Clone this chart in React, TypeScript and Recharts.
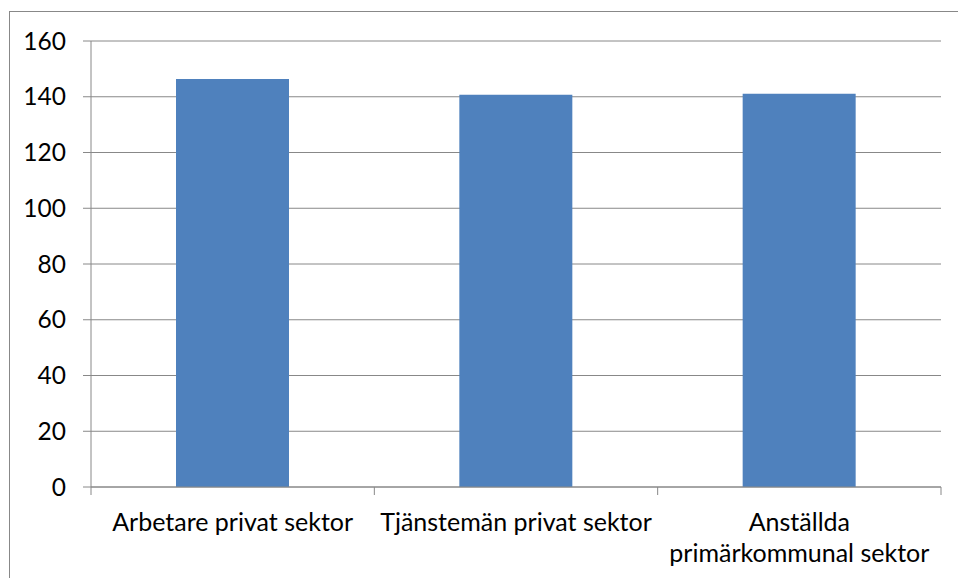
import { Bar, BarChart, CartesianGrid, XAxis, YAxis } from "recharts"

const categories = ["Arbetare privat sektor", "Tjänstemän privat sektor", "Anställda primärkommunal sektor"]
const values = [146.4, 140.7, 141.1]
const yTicks = [0, 20, 40, 60, 80, 100, 120, 140, 160]

const data = categories.map((name, i) => ({ name, value: values[i] }))

const W = 958
const H = 578
const margin = { top: 41, right: 17, left: 0, bottom: 0 }
const yAxisWidth = 91
const band = (W - margin.left - yAxisWidth - margin.right) / categories.length
const font = "Lato, 'Open Sans', sans-serif"
const grey = "#888888"

// splits long labels over two lines at the first space, like the original
const CategoryTick = (props: any) => {
  const { x, y, payload, index } = props
  const label: string = payload.value
  const lines = label.length > 26 ? [label.slice(0, label.indexOf(" ")), label.slice(label.indexOf(" ") + 1)] : [label]
  return (
    <g>
      <line x1={x - band / 2} x2={x - band / 2} y1={y - 8} y2={y} stroke={grey} />
      {index === categories.length - 1 && <line x1={x + band / 2} x2={x + band / 2} y1={y - 8} y2={y} stroke={grey} />}
      <text x={x} y={y + 36} textAnchor="middle" fontSize={25} fill="#000" fontFamily={font}>
        {lines.map((l, i) => (
          <tspan key={i} x={x} dy={i === 0 ? 0 : 31}>
            {l}
          </tspan>
        ))}
      </text>
    </g>
  )
}

export default function App() {
  return (
    <div style={{ position: "fixed", left: 0, top: 0, width: W, height: H, background: "#fff", overflow: "hidden" }}>
      <div
        style={{
          position: "absolute",
          left: 9,
          top: 11,
          width: W,
          height: H,
          border: `1px solid ${grey}`,
          boxSizing: "border-box",
        }}
      />
      <div style={{ position: "absolute", left: 0, top: 0 }}>
        <BarChart width={W} height={H} data={data} margin={margin} barCategoryGap="30%">
          <CartesianGrid vertical={false} stroke={grey} />
          <XAxis
            dataKey="name"
            height={91}
            axisLine={{ stroke: grey }}
            tickLine={false}
            tick={<CategoryTick />}
            interval={0}
          />
          <YAxis
            width={yAxisWidth}
            domain={[0, 160]}
            ticks={yTicks}
            interval={0}
            axisLine={{ stroke: grey }}
            tickLine={{ stroke: grey }}
            tickSize={8}
            tick={{ fontSize: 24.5, fill: "#000", fontFamily: font }}
            tickMargin={17}
          />
          <Bar dataKey="value" fill="#4F81BD" isAnimationActive={false} />
        </BarChart>
      </div>
    </div>
  )
}
